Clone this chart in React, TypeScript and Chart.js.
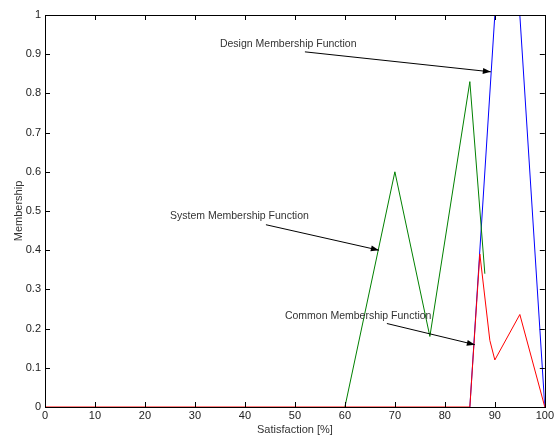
import React, { useEffect, useRef } from "react";
import { Chart, registerables } from "chart.js";

Chart.register(...registerables);

const xTicks = [0, 10, 20, 30, 40, 50, 60, 70, 80, 90, 100];
const yTicks = [0, 0.1, 0.2, 0.3, 0.4, 0.5, 0.6, 0.7, 0.8, 0.9, 1];

const designX = [85, 90, 95, 100];
const designY = [0, 1, 1, 0];

const systemX = [60, 70, 77, 85, 88];
const systemY = [0, 0.6, 0.18, 0.83, 0.34];

const commonX = [0, 85, 87, 89, 90, 95, 100];
const commonY = [0, 0, 0.39, 0.17, 0.12, 0.236, 0];

const annotations = [
  { text: "Design Membership Function", tx: 35, ty: 0.927, ax0: 52, ay0: 0.906, ax1: 89.2, ay1: 0.855 },
  { text: "System Membership Function", tx: 25, ty: 0.488, ax0: 44.2, ay0: 0.465, ax1: 66.8, ay1: 0.4 },
  { text: "Common Membership Function", tx: 48, ty: 0.233, ax0: 68.4, ay0: 0.213, ax1: 86, ay1: 0.159 },
];

const FONT = "Liberation Sans, Arial, sans-serif";

const toPts = (xs: number[], ys: number[]) => xs.map((x, i) => ({ x, y: ys[i] }));

const matlabPlugin = {
  id: "matlabBox",
  afterDatasetsDraw(chart: any) {
    const { ctx, chartArea: a, scales } = chart;
    const xs = scales.x;
    const ys = scales.y;
    ctx.save();
    ctx.strokeStyle = "#000";
    ctx.lineWidth = 1;
    ctx.beginPath();
    const tl = 5;
    xTicks.forEach((v) => {
      const px = Math.round(xs.getPixelForValue(v)) + 0.5;
      ctx.moveTo(px, a.bottom);
      ctx.lineTo(px, a.bottom - tl);
      ctx.moveTo(px, a.top);
      ctx.lineTo(px, a.top + tl);
    });
    yTicks.forEach((v) => {
      const py = Math.round(ys.getPixelForValue(v)) + 0.5;
      ctx.moveTo(a.left, py);
      ctx.lineTo(a.left + tl, py);
      ctx.moveTo(a.right, py);
      ctx.lineTo(a.right - tl, py);
    });
    ctx.stroke();
    ctx.strokeRect(Math.round(a.left) + 0.5, Math.round(a.top) + 0.5, Math.round(a.right - a.left), Math.round(a.bottom - a.top));

    // annotations
    ctx.font = "10.5px " + FONT;
    ctx.fillStyle = "#333";
    ctx.textBaseline = "middle";
    ctx.textAlign = "left";
    annotations.forEach((an) => {
      ctx.fillText(an.text, xs.getPixelForValue(an.tx), ys.getPixelForValue(an.ty));
      const x0 = xs.getPixelForValue(an.ax0);
      const y0 = ys.getPixelForValue(an.ay0);
      const x1 = xs.getPixelForValue(an.ax1);
      const y1 = ys.getPixelForValue(an.ay1);
      ctx.strokeStyle = "#000";
      ctx.beginPath();
      ctx.moveTo(x0, y0);
      ctx.lineTo(x1, y1);
      ctx.stroke();
      const ang = Math.atan2(y1 - y0, x1 - x0);
      const L = 8;
      const W = 3;
      ctx.fillStyle = "#000";
      ctx.beginPath();
      ctx.moveTo(x1, y1);
      ctx.lineTo(x1 - L * Math.cos(ang) - W * Math.sin(ang), y1 - L * Math.sin(ang) + W * Math.cos(ang));
      ctx.lineTo(x1 - L * Math.cos(ang) + W * Math.sin(ang), y1 - L * Math.sin(ang) - W * Math.cos(ang));
      ctx.closePath();
      ctx.fill();
      ctx.fillStyle = "#333";
    });
    ctx.restore();
  },
};

export default function App() {
  const ref = useRef<HTMLCanvasElement>(null);
  useEffect(() => {
    const chart = new Chart(ref.current!, {
      type: "line",
      data: {
        datasets: [
          { label: "Common", data: toPts(commonX, commonY), borderColor: "#ff0000", borderWidth: 1, pointRadius: 0, order: 1 },
          { label: "System", data: toPts(systemX, systemY), borderColor: "#008000", borderWidth: 1, pointRadius: 0, order: 2 },
          { label: "Design", data: toPts(designX, designY), borderColor: "#0000ff", borderWidth: 1, pointRadius: 0, order: 3 },
        ],
      },
      options: {
        animation: false,
        responsive: false,
        maintainAspectRatio: false,
        layout: { padding: { top: 15, right: 11, left: 0, bottom: 0 } },
        plugins: { legend: { display: false }, tooltip: { enabled: false } },
        scales: {
          x: {
            type: "linear",
            min: 0,
            max: 100,
            afterBuildTicks: (s: any) => { s.ticks = xTicks.map((v) => ({ value: v })); },
            afterFit: (s: any) => { s.height = 30; },
            grid: { display: false, drawTicks: false },
            border: { display: false },
            ticks: { color: "#222", font: { family: FONT, size: 11 }, padding: 2, maxRotation: 0 },
            title: { display: true, text: "Satisfaction [%]", color: "#333", font: { family: FONT, size: 11 }, padding: { top: 0, bottom: 0 } },
          },
          y: {
            type: "linear",
            min: 0,
            max: 1,
            afterBuildTicks: (s: any) => { s.ticks = yTicks.map((v) => ({ value: v })); },
            afterFit: (s: any) => { s.width = 45; },
            grid: { display: false, drawTicks: false },
            border: { display: false },
            ticks: { color: "#222", font: { family: FONT, size: 11 }, padding: 4, callback: (v: any) => String(Math.round(v * 10) / 10) },
            title: { display: true, text: "Membership", color: "#333", font: { family: FONT, size: 11 }, padding: { top: 12, bottom: 4 } },
          },
        },
      },
      plugins: [matlabPlugin],
    });
    return () => chart.destroy();
  }, []);
  return (
    <div style={{ position: "fixed", left: 0, top: 0, width: 556, height: 437, background: "#fff" }}>
      <canvas ref={ref} width={556} height={437} style={{ display: "block", width: 556, height: 437 }} />
    </div>
  );
}
